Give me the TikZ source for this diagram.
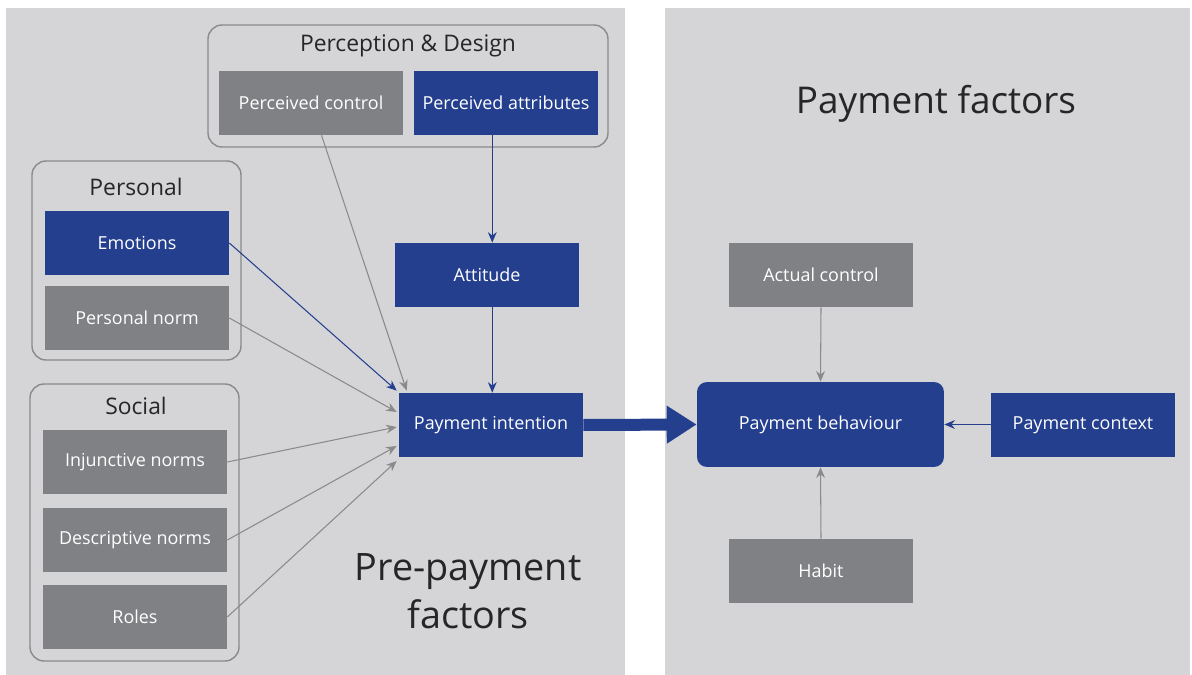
\documentclass[tikz,border=0pt]{standalone}
\usepackage{fontspec}
\setmainfont{Open Sans}
\usepackage{tikz}
\usetikzlibrary{arrows.meta, positioning}
\definecolor{payblue}{RGB}{37,63,143}
\definecolor{boxgray}{RGB}{128,129,132}
\definecolor{panelgray}{RGB}{213,213,215}
\definecolor{linegray}{RGB}{138,138,140}
\tikzset{bluebox/.style={fill=payblue, text=white, minimum width=3.68cm, minimum height=1.28cm, inner sep=0pt, font=\fontsize{10.2}{12}\selectfont},
    graybox/.style={bluebox, fill=boxgray},
    groupbox/.style={draw=linegray, line width=0.8pt, rounded corners=8pt},
    grouptitle/.style={text=black!85, font=\fontsize{13}{15}\selectfont},
    gray arrow/.style={draw=linegray, line width=0.6pt, -{Stealth[length=6pt, width=5pt]}},
    blue arrow/.style={draw=payblue, line width=0.6pt, -{Stealth[length=6pt, width=5pt]}}}

\begin{document}
\begin{tikzpicture}[x=0.02cm, y=-0.02cm]
            \useasboundingbox (0,0) rectangle (1192,675);
            \fill[white](0,0) rectangle (1192,675);
            \fill[panelgray](6,8) rectangle (625,675);
            \fill[panelgray](665,8) rectangle (1190,675);
            \draw[groupbox](208,25) rectangle (608,147);
            \draw[groupbox](32,161) rectangle (241,360);
            \draw[groupbox](30,384) rectangle (239,661);
            \node[grouptitle] (design) at (408,46) {Perception \& Design};
            \node[grouptitle] (personal) at (136,187) {Personal};
            \node[grouptitle] (social) at (136,406) {Social};
            \node[graybox] (control) at (311,103) {Perceived control};
            \node[bluebox] (attributes) at (506,103) {Perceived attributes};
            \node[bluebox] (emotions) at (137,243) {Emotions};
            \node[graybox] (pnorm) at (137,318) {Personal norm};
            \node[graybox] (injunctive) at (135,462) {Injunctive norms};
            \node[graybox] (descriptive) at (135,540) {Descriptive norms};
            \node[graybox] (roles) at (135,617) {Roles};
            \node[bluebox] (attitude) at (487,275) {Attitude};
            \node[bluebox] (intention) at (491,425) {Payment intention};
            \node[bluebox, minimum width=4.94cm, minimum height=1.7cm, rounded corners=0.2cm] (behaviour) at (820.5,424.5) {Payment behaviour};
            \node[graybox] (actual) at (821,275) {Actual control};
            \node[bluebox] (context) at (1083,425) {Payment context};
            \node[graybox] (habit) at (821,571) {Habit};
            \node[text=black!85, font=\fontsize{21}{25}\selectfont] (payfactors) at (936,104) {Payment factors};
            \node[text=black!85, font=\fontsize{21.5}{27}\selectfont, align=center] (prefactors) at (468,591) {Pre-payment\\factors};
            \draw[gray arrow]([xshift=6]control.south)--([shift={(8,-2)}]intention.north west);
            \draw[blue arrow]([xshift=3]attributes.south-|attitude.north)--([xshift=3]attitude.north);
            \draw[blue arrow]([xshift=3]attitude.south)--([xshift=3]attitude.south|-intention.north);
            \draw[blue arrow](emotions.east)--([shift={(-2,-2)}]intention.north west);
            \draw[gray arrow](pnorm.east)--([shift={(-2,-13)}]intention.west);
            \draw[gray arrow](injunctive.east)--([shift={(-2,2)}]intention.west);
            \draw[gray arrow](descriptive.east)--([shift={(-2,21)}]intention.west);
            \draw[gray arrow](roles.east)--([shift={(-2,36)}]intention.west);
            \draw[payblue, line width=0.24cm, -{Triangle[length=0.6cm, width=0.72cm]}](intention.east)--(behaviour.west);
            \draw[gray arrow](actual.south)--(behaviour.north);
            \draw[gray arrow](habit.north)--(behaviour.south);
            \draw[blue arrow](context.west|-behaviour.east)--(behaviour.east);
        \end{tikzpicture}
\end{document}
